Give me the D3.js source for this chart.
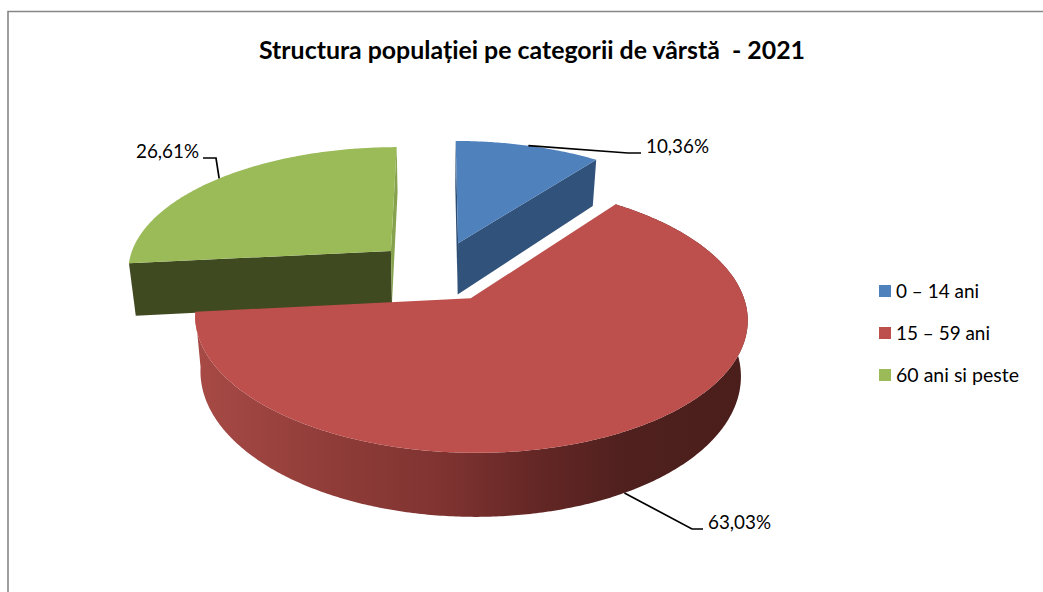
<!DOCTYPE html>
<html>
<head>
<meta charset="utf-8">
<script src="https://cdn.jsdelivr.net/npm/d3@7"></script>
<style>
  html, body { margin: 0; padding: 0; background: #fff; }
  svg { display: block; }
  text { font-family: Lato, "Open Sans", sans-serif; fill: #000; white-space: pre; }
</style>
</head>
<body>
<div id="chart"></div>
<script>
// datele graficului
var categorii = ["0 – 14 ani", "15 – 59 ani", "60 ani si peste"];
var procente = [10.36, 63.03, 26.61];
var etichete = ["10,36%", "63,03%", "26,61%"];
var titlu = "Structura populației pe categorii de vârstă  - 2021";

var culoriSus = ["#4f81bd", "#bd4f4c", "#9bbb59"];
var culoriFata = ["#31527a", "#6b2b29", "#404a21"];
var culoriFelie = ["#2c4c72", "#6b2b29", "#86a24d"];

var w = 1043, h = 592;

// parametrii perspectivei (pie 3D)
var cx = 438, cy = 271, R = 265, k = 124, a = 0.142;
var explode = 0.245, inaltime = 53, ingustare = 0.978;

var svg = d3.select("#chart").append("svg").attr("width", w).attr("height", h);

// chenarul
svg.append("path")
  .attr("d", "M8," + h + "V11.5H" + w)
  .attr("fill", "none")
  .attr("stroke", "#868686")
  .attr("stroke-width", 1.6);

svg.append("text")
  .attr("x", 532).attr("y", 59)
  .attr("text-anchor", "middle")
  .attr("font-size", 25)
  .attr("font-weight", 700)
  .attr("textLength", 546)
  .attr("lengthAdjust", "spacingAndGlyphs")
  .text(titlu);

var pie = d3.pie().sort(null)(procente);

// proiectie din planul discului pe ecran
function proiect(X, Y, z) {
  var s = 1 / (1 - a * Y);
  var px = cx + X * R * s, py = cy + Y * k * s;
  if (z) {
    px = cx + (px - cx) * ingustare;
    py = py + inaltime * s;
  }
  return [px, py];
}

// punct pe felie: t = unghi, r = raza (0 = varf), z = 0 sus, 1 jos
function punct(d, t, r, z) {
  var mid = (d.startAngle + d.endAngle) / 2;
  var X = explode * Math.sin(mid) + r * Math.sin(t);
  var Y = -explode * Math.cos(mid) - r * Math.cos(t);
  return proiect(X, Y, z);
}

function arc(d, t0, t1, z) {
  var n = Math.ceil(Math.abs(t1 - t0) / 0.01);
  return d3.range(n + 1).map(function(i) {
    return punct(d, t0 + (t1 - t0) * i / n, 1, z);
  });
}

var linie = d3.line();

var defs = svg.append("defs");
var gradX = d3.scaleLinear().domain([0, 1]).range([195, 750]);
var grad = defs.append("linearGradient")
  .attr("id", "peretele")
  .attr("gradientUnits", "userSpaceOnUse")
  .attr("x1", gradX(0)).attr("x2", gradX(1))
  .attr("y1", 0).attr("y2", 0);
[[0, "#a84a46"], [0.25, "#8f3c38"], [0.45, "#7f3331"], [0.6, "#662826"], [0.78, "#4f201e"], [1, "#4a1e1b"]].forEach(function(p) {
  grad.append("stop").attr("offset", p[0]).attr("stop-color", p[1]);
});

// ordinea de desenare: intai feliile din spate
[2, 0, 1].forEach(function(i) {
  var d = pie[i];
  var g = svg.append("g");

  if (i == 1) {
    // peretele exterior rosu
    var sus = arc(d, d.startAngle, d.endAngle, 0);
    var jos = arc(d, d.endAngle, d.startAngle, 1);
    g.append("path")
      .attr("d", linie(sus.concat(jos)) + "Z")
      .attr("fill", "url(#peretele)");
  } else {
    // fetele taiate
    [[d.startAngle, i == 2 ? culoriFata[i] : culoriFelie[i]],
     [d.endAngle, i == 2 ? culoriFelie[i] : culoriFata[i]]].forEach(function(f) {
      var fata = [punct(d, f[0], 0, 0), punct(d, f[0], 1, 0), punct(d, f[0], 1, 1), punct(d, f[0], 0, 1)];
      g.append("path").attr("d", linie(fata) + "Z").attr("fill", f[1]);
    });
  }

  var felie = [punct(d, 0, 0, 0)].concat(arc(d, d.startAngle, d.endAngle, 0));
  g.append("path")
    .attr("d", linie(felie) + "Z")
    .attr("fill", culoriSus[i]);
});

// etichete cu linii de legatura
var cotLinie = [[628, 153, 641, 153], [692, 529, 703, 529], [216, 158, 203, 158]];
var pozText = [[646, 153, "start"], [708, 529, "start"], [199, 158, "end"]];

pie.forEach(function(d, i) {
  var mid = (d.startAngle + d.endAngle) / 2;
  var start = punct(d, mid, 1, i == 1 ? 1 : 0);
  var c = cotLinie[i];
  svg.append("path")
    .attr("d", linie([start, [c[0], c[1]], [c[2], c[3]]]))
    .attr("fill", "none")
    .attr("stroke", "#000")
    .attr("stroke-width", 1.7);
  svg.append("text")
    .attr("x", pozText[i][0]).attr("y", pozText[i][1])
    .attr("text-anchor", pozText[i][2])
    .attr("font-size", 18.5)
    .attr("textLength", 63)
    .attr("lengthAdjust", "spacingAndGlyphs")
    .text(etichete[i]);
});

// legenda
var legY = d3.scalePoint().domain(categorii).range([298, 382]);
var latimi = [83, 94, 123];
categorii.forEach(function(c, i) {
  svg.append("rect")
    .attr("x", 879).attr("y", legY(c) - 13)
    .attr("width", 12).attr("height", 12)
    .attr("fill", culoriSus[i]);
  svg.append("text")
    .attr("x", 896).attr("y", legY(c))
    .attr("font-size", 18.5)
    .attr("textLength", latimi[i])
    .attr("lengthAdjust", "spacingAndGlyphs")
    .text(c);
});
</script>
</body>
</html>
